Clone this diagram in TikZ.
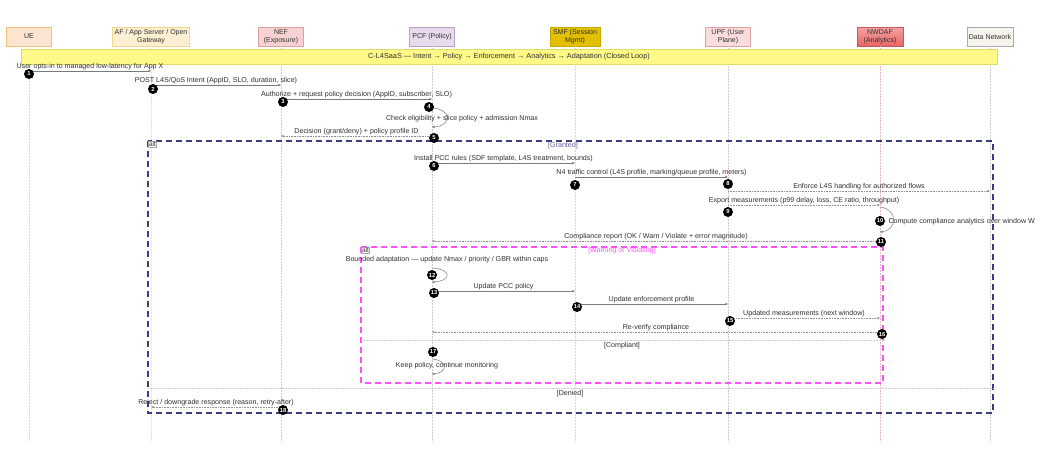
\documentclass[tikz,border=0pt]{standalone}
\usepackage{fontspec}
\setmainfont{Liberation Sans}
\usetikzlibrary{arrows.meta,calc}
\definecolor{ueF}{HTML}{FCE5D0}\definecolor{ueD}{HTML}{F0C07A}\definecolor{ueL}{HTML}{EED9A8}
\definecolor{afF}{HTML}{FDF0D2}\definecolor{afD}{HTML}{F2D68E}\definecolor{afL}{HTML}{EEE2A4}
\definecolor{nefF}{HTML}{F8D2D2}\definecolor{nefD}{HTML}{DDA0A0}\definecolor{nefL}{HTML}{E6C2C2}
\definecolor{pcfF}{HTML}{E6DAEC}\definecolor{pcfD}{HTML}{B9A2C8}\definecolor{pcfL}{HTML}{CCCCCC}
\definecolor{smfF}{HTML}{E2C000}\definecolor{smfD}{HTML}{C9A800}\definecolor{smfL}{HTML}{E6DCA2}
\definecolor{upfF}{HTML}{FADCDC}\definecolor{upfD}{HTML}{DDA0A0}\definecolor{upfL}{HTML}{E6C0C8}
\definecolor{nwT}{HTML}{F6A4A4}\definecolor{nwB}{HTML}{E86464}\definecolor{nwD}{HTML}{C85858}\definecolor{nwL}{HTML}{E6B8C0}
\definecolor{dnF}{HTML}{F6F4EC}\definecolor{dnD}{HTML}{AAAAAA}\definecolor{dnL}{HTML}{CCCCCC}
\definecolor{banF}{HTML}{FFF987}\definecolor{banD}{HTML}{E2DA66}
\definecolor{navyF}{HTML}{3C3C80}\definecolor{magF}{HTML}{FF50FF}
\definecolor{msgC}{HTML}{7A7A7A}\definecolor{repC}{HTML}{909090}\definecolor{txtC}{HTML}{303030}
\tikzset{
  head/.style={draw, line width=0.6pt, minimum height=19pt, align=center, inner sep=1pt,
    font=\fontsize{7}{8}\selectfont, text=txtC},
  life/.style={densely dotted, line width=0.5pt},
  msg/.style={draw=msgC, line width=0.5pt, -{Stealth[length=3pt,width=2.4pt]}},
  reply/.style={msg, draw=repC, dash pattern=on 0.6pt off 1pt},
  lbl/.style={font=\fontsize{7.1}{8}\selectfont, text=txtC, inner sep=0.3pt},
  badge/.style={circle, fill=black, text=white, inner sep=0pt, minimum size=10pt,
    font=\fontsize{5.8}{5.8}\selectfont\bfseries},
  outerfr/.style={draw=navyF, line width=1.6pt, dash pattern=on 6pt off 4pt},
  innerfr/.style={draw=magF, line width=1.6pt, dash pattern=on 6pt off 4pt},
  altlbl/.style={draw=gray!70, line width=0.4pt, inner sep=0.8pt, font=\fontsize{6.5}{6.5}\selectfont, text=txtC, fill=white},
  sepline/.style={draw=gray!40, line width=0.5pt, densely dotted},
  guard/.style={font=\fontsize{7.1}{8}\selectfont, inner sep=0.5pt}
}
\begin{document}
\begin{tikzpicture}[x=1pt,y=-1pt]
\useasboundingbox[fill=white] (0,0) rectangle (1042,466);
% heads
\node[head, fill=ueF, draw=ueD, minimum width=45pt] (ue) at (29,36.5) {UE};
\node[head, fill=afF, draw=afD, minimum width=77pt] (af) at (151,36.5) {AF / App Server / Open\\Gateway};
\node[head, fill=nefF, draw=nefD, minimum width=45pt] (nef) at (281,36.5) {NEF\\(Exposure)};
\node[head, fill=pcfF, draw=pcfD, minimum width=45pt] (pcf) at (432,36.5) {PCF (Policy)};
\node[head, fill=smfF, draw=smfD, minimum width=50pt] (smf) at (575,36.5) {SMF (Session\\Mgmt)};
\node[head, fill=upfF, draw=upfD, minimum width=45pt] (upf) at (728,36.5) {UPF (User\\Plane)};
\node[head, top color=nwT, bottom color=nwB, draw=nwD, minimum width=46pt] (nw) at (880,36.5) {NWDAF\\(Analytics)};
\node[head, fill=dnF, draw=dnD, minimum width=46pt] (dn) at (990,36.5) {Data Network};
% lifelines
\draw[life, draw=ueL] (ue.south) -- (ue |- 0,441);
\draw[life, draw=afL] (af.south) -- (af |- 0,441);
\draw[life, draw=nefL] (nef.south) -- (nef |- 0,441);
\draw[life, draw=pcfL] (pcf.south) -- (pcf |- 0,441);
\draw[life, draw=smfL] (smf.south) -- (smf |- 0,441);
\draw[life, draw=upfL] (upf.south) -- (upf |- 0,441);
\draw[life, draw=nwL] (nw.south) -- (nw |- 0,441);
\draw[life, draw=dnL] (dn.south) -- (dn |- 0,441);
% banner
\node[draw=banD, fill=banF, line width=0.6pt, minimum width=976pt, minimum height=15pt, inner sep=0pt,
  font=\fontsize{7.3}{8}\selectfont, text=txtC] (banner) at (509,56.5)
  {C-L4SaaS — Intent → Policy → Enforcement → Analytics → Adaptation (Closed Loop)};
% frames
\draw[outerfr] (148,141) rectangle (993,413);
\node[altlbl, anchor=north west] (alt1) at (148,141) {alt};
\node[guard, text=navyF!80] (g1) at (563,146) {[Granted]};
\draw[innerfr] (361,247) rectangle (883,383);
\node[altlbl, anchor=north west] (alt2) at (361,247) {alt};
\node[guard, text=magF] (g2) at (622,251) {[Warning or Violating]};
\draw[sepline] (361,340) -- (883,340);
\node[guard, text=txtC] (g3) at (622,346) {[Compliant]};
\draw[sepline] (148,388) -- (993,388);
\node[guard, text=txtC] (g4) at (570,394) {[Denied]};
% messages
\draw[msg] (ue |- 0,71) -- node[lbl, above] (t1) {User opts-in to managed low-latency for App X} (af |- 0,71);
\draw[msg] (af |- 0,85) -- node[lbl, above] (t2) {POST L4S/QoS Intent (AppID, SLO, duration, slice)} (nef |- 0,85);
\draw[msg] (nef |- 0,99) -- node[lbl, above] (t3) {Authorize + request policy decision (AppID, subscriber, SLO)} (pcf |- 0,99);
\draw[msg] (pcf |- 0,108) .. controls +(20,1) and +(20,-1) .. (pcf |- 0,127);
\node[lbl] (t4) at (462,119) {Check eligibility + slice policy + admission Nmax};
\draw[reply] (pcf |- 0,136) -- node[lbl, above] (t5) {Decision (grant/deny) + policy profile ID} (nef |- 0,136);
\draw[msg] (pcf |- 0,163) -- node[lbl, above] (t6) {Install PCC rules (SDF template, L4S treatment, bounds)} (smf |- 0,163);
\draw[msg] (smf |- 0,177) -- node[lbl, above] (t7) {N4 traffic control (L4S profile, marking/queue profile, meters)} (upf |- 0,177);
\draw[reply] (upf |- 0,191) -- node[lbl, above] (t8) {Enforce L4S handling for authorized flows} (dn |- 0,191);
\draw[reply] (upf |- 0,205) -- node[lbl, above] (t9) {Export measurements (p99 delay, loss, CE ratio, throughput)} (nw |- 0,205);
\draw[msg] (nw |- 0,207) .. controls +(18,2) and +(18,-2) .. (nw |- 0,232);
\node[lbl, anchor=west] (t10) at (888,222) {Compute compliance analytics over window W};
\draw[reply] (nw |- 0,241) -- node[lbl, above] (t11) {Compliance report (OK / Warn / Violate + error magnitude)} (pcf |- 0,241);
\node[lbl] (t12) at (447,260) {Bounded adaptation — update Nmax / priority / GBR within caps};
\draw[msg] (pcf |- 0,268) .. controls +(20,1) and +(20,-1) .. (pcf |- 0,282);
\draw[msg] (pcf |- 0,291) -- node[lbl, above] (t13) {Update PCC policy} (smf |- 0,291);
\draw[msg] (smf |- 0,304) -- node[lbl, above] (t14) {Update enforcement profile} (upf |- 0,304);
\draw[reply] (upf |- 0,318) -- node[lbl, above] (t15) {Updated measurements (next window)} (nw |- 0,318);
\draw[reply] (nw |- 0,332) -- node[lbl, above] (t16) {Re-verify compliance} (pcf |- 0,332);
\draw[msg] (pcf |- 0,359) .. controls +(16,1) and +(16,-1) .. (pcf |- 0,374);
\node[lbl] (t17) at (447,366) {Keep policy, continue monitoring};
\draw[reply] (nef |- 0,407) -- node[lbl, above] (t18) {Reject / downgrade response (reason, retry-after)} (af |- 0,407);
% badges
\node[badge] (b1) at (29,74) {1};
\node[badge] (b2) at (153,89) {2};
\node[badge] (b3) at (283,102) {3};
\node[badge] (b4) at (429,107) {4};
\node[badge] (b5) at (434,138) {5};
\node[badge] (b6) at (434,166) {6};
\node[badge] (b7) at (575,185) {7};
\node[badge] (b8) at (728,184) {8};
\node[badge] (b9) at (728,212) {9};
\node[badge] (b10) at (880,221) {10};
\node[badge] (b11) at (881,242) {11};
\node[badge] (b12) at (432,275) {12};
\node[badge] (b13) at (434,293) {13};
\node[badge] (b14) at (577,307) {14};
\node[badge] (b15) at (730,321) {15};
\node[badge] (b16) at (882,334) {16};
\node[badge] (b17) at (433,352) {17};
\node[badge] (b18) at (283,410) {18};
\end{tikzpicture}
\end{document}
